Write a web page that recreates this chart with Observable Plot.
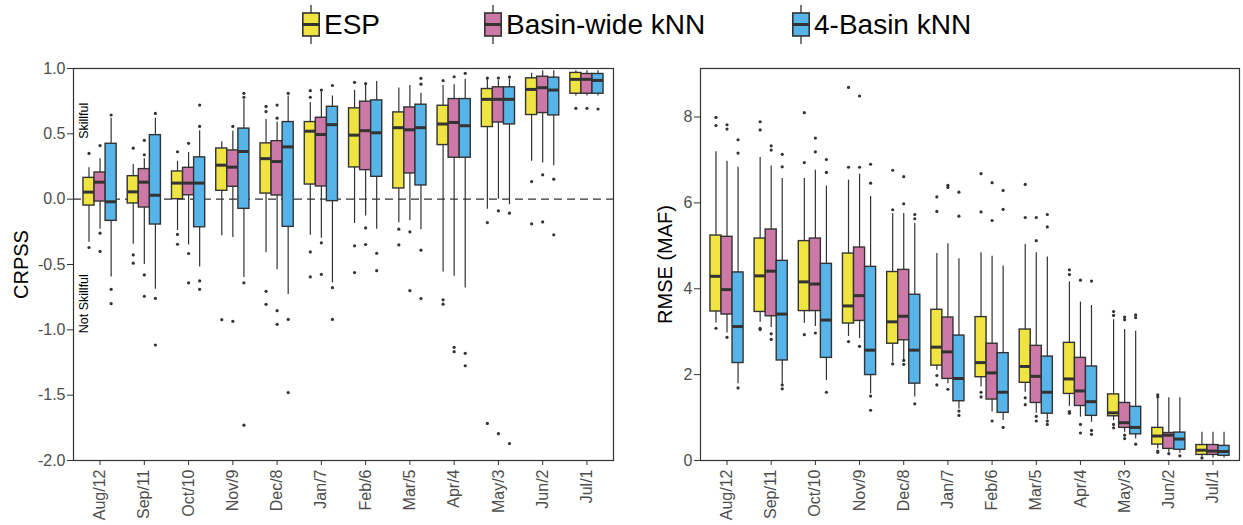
<!DOCTYPE html>
<html><head><meta charset="utf-8">
<script src="https://cdn.jsdelivr.net/npm/d3@7"></script>
<script src="https://cdn.jsdelivr.net/npm/@observablehq/plot@0.6"></script>
<style>
body{margin:0;background:#fff;font-family:"Liberation Sans",Arial,sans-serif;}
#wrap{position:relative;width:1243px;height:525px;overflow:hidden;background:#fff}
#legend{position:absolute;left:0;top:0;width:1243px;height:55px}
.item{position:absolute;top:0;height:50px;display:flex;align-items:center}
.item span{font-size:28px;color:#000;margin-left:4px;line-height:1}
#left{position:absolute;left:0;top:55px}
#right{position:absolute;left:630px;top:55px}
</style></head>
<body><div id="wrap"><div id="legend"></div><div id="left"></div><div id="right"></div></div>
<script>
// ---------- data ----------
const months = ["Aug/12","Sep/11","Oct/10","Nov/9","Dec/8","Jan/7","Feb/6","Mar/5","Apr/4","May/3","Jun/2","Jul/1"];
const series = ["ESP","Basin-wide kNN","4-Basin kNN"];
const colors = ["#F0E442","#CC79A7","#56B4E9"];
const legendLeft = [302, 484, 792];

// box stats per month: [lower whisker, Q1, median, Q3, upper whisker]
const crpssESP = [[-0.33,-0.049,0.054,0.163,0.24],[-0.345,-0.033,0.056,0.176,0.266],[-0.24,0.0,0.123,0.212,0.29],[-0.28,0.064,0.26,0.388,0.44],[-0.41,0.043,0.31,0.427,0.61],[-0.276,0.112,0.52,0.59,0.74],[-0.186,0.243,0.49,0.695,0.833],[-0.18,0.082,0.547,0.664,0.85],[-0.557,0.414,0.575,0.715,0.87],[-0.077,0.552,0.764,0.843,0.92],[0.29,0.644,0.84,0.925,0.963],[0.79,0.807,0.917,0.966,0.983]];
const crpssBW = [[-0.23,-0.018,0.13,0.204,0.31],[-0.5,-0.064,0.13,0.23,0.31],[-0.35,0.03,0.123,0.24,0.357],[-0.294,0.095,0.245,0.373,0.52],[-0.54,0.028,0.288,0.444,0.59],[-0.3,0.097,0.495,0.623,0.82],[-0.128,0.222,0.524,0.746,0.87],[-0.166,0.197,0.531,0.702,0.87],[-0.59,0.317,0.587,0.766,0.876],[0.0,0.587,0.764,0.856,0.907],[0.276,0.659,0.853,0.937,0.983],[0.79,0.807,0.917,0.958,0.983]];
const crpss4B = [[-0.595,-0.166,-0.02,0.424,0.62],[-0.69,-0.194,0.03,0.49,0.62],[-0.52,-0.215,0.123,0.32,0.524],[-0.6,-0.074,0.365,0.54,0.76],[-0.73,-0.212,0.40,0.59,0.79],[-0.64,-0.015,0.57,0.707,0.79],[-0.23,0.171,0.508,0.756,0.9],[-0.235,0.105,0.547,0.723,0.81],[-0.68,0.317,0.562,0.766,0.917],[-0.043,0.572,0.764,0.856,0.92],[0.255,0.641,0.835,0.93,0.983],[0.79,0.807,0.909,0.958,0.983]];
const crpssESPOut = [[0.35,-0.37],[0.39,-0.427,-0.49],[0.363,-0.27,-0.345],[-0.922],[0.67,0.71,-0.705,-0.805],[0.78,0.83,-0.404,-0.595],[0.894,-0.357,-0.562],[-0.23,-0.35],[0.907,-0.77,-0.804],[0.927,-0.179,-1.716],[0.135,-0.189],[0.695]];
const crpssBWOut = [[0.41,-0.26,-0.40],[0.34,0.45,-0.58,-0.743],[0.427,-0.416,-0.64],[0.557,-0.935],[0.62,0.72,-0.853,-0.958],[0.835,-0.334,-0.575],[0.885,-0.22,-0.347],[-0.25,-0.70],[0.937,-1.134,-1.167],[0.927,-0.089,-1.795],[0.186,-0.174],[0.695]];
const crpss4BOut = [[0.644,-0.69,-0.80],[0.656,-0.76,-1.116],[0.557,0.72,-0.626,-0.69],[0.78,0.81,-0.64,-1.73],[0.81,-0.92,-1.48],[0.87,-0.677,-0.92],[-0.414,-0.547],[0.88,0.925,-0.39,-0.761],[0.963,-1.18,-1.275],[0.935,-0.107,-1.87],[0.153,-0.273],[0.69]];

const rmseESP = [[3.2,3.47,4.29,5.24,7.19],[3.22,3.46,4.3,5.17,7.06],[3.19,3.48,4.16,5.11,6.57],[2.89,3.19,3.6,4.82,6.53],[2.29,2.72,3.23,4.39,5.75],[2.1,2.21,2.64,3.51,4.82],[1.71,1.94,2.28,3.34,4.84],[1.59,1.81,2.19,3.05,5.03],[1.26,1.55,1.9,2.74,4.16],[0.93,1.03,1.11,1.54,3.28],[0.27,0.37,0.57,0.76,1.44],[0.09,0.13,0.24,0.36,0.66]];
const rmseBW = [[2.97,3.4,3.98,5.21,6.97],[3.1,3.36,4.41,5.38,6.86],[3.12,3.48,4.11,5.17,6.76],[2.84,3.25,3.84,4.96,6.67],[2.35,2.8,3.36,4.44,5.75],[1.79,1.9,2.53,3.33,5.05],[1.13,1.42,2.04,2.72,4.76],[1.1,1.34,1.96,2.67,4.84],[1.01,1.27,1.62,2.39,3.69],[0.66,0.76,0.88,1.34,3.05],[0.19,0.27,0.59,0.64,1.46],[0.06,0.13,0.22,0.36,0.66]];
const rmse4B = [[1.79,2.27,3.12,4.38,6.83],[1.79,2.33,3.41,4.65,6.57],[1.86,2.39,3.27,4.58,6.39],[1.55,1.99,2.57,4.51,6.15],[1.48,1.79,2.57,3.86,5.52],[1.2,1.38,1.91,2.91,4.7],[0.93,1.11,1.59,2.5,4.53],[0.95,1.09,1.59,2.42,4.74],[0.89,1.04,1.37,2.19,3.61],[0.5,0.61,0.77,1.25,3.01],[0.17,0.25,0.5,0.65,1.46],[0.06,0.11,0.21,0.34,0.66]];
const rmseESPOut = [[7.8,7.99,3.08],[7.7,7.89,3.08,3.05],[6.94,8.1,2.93],[6.83,8.69,2.77],[5.84,6.76,2.25],[5.8,6.14,1.98,1.76],[5.79,6.68,1.59,1.48],[5.66,6.43,1.46,1.3],[4.33,4.44,1.14,1.1],[3.38,3.47,0.84,0.76],[1.48,1.53,0.22,0.19],[0.06]];
const rmseBWOut = [[7.72,7.82,2.87],[7.23,7.33,2.95,2.82],[7.19,7.51,2.97],[6.83,8.49,2.66],[5.98,6.61,2.33,2.24],[6.36,6.41,1.66],[5.59,6.47,0.92],[5.12,5.66,1.03,0.92],[4.2,0.84,0.64],[3.28,3.34,0.59,0.51],[0.16],[]];
const rmse4BOut = [[7.16,7.47,1.69],[6.84,7.13,1.76,1.67],[6.71,7.01,1.59],[6.46,6.9,1.5,1.17],[5.63,5.73,1.32],[5.69,6.25,1.15,1.05],[5.85,6.29,0.77],[5.44,5.73,0.92,0.84],[4.18,0.7,0.61],[3.33,3.39,0.38],[0.11],[]];

const crpssTicks = [-2,-1.5,-1,-0.5,0,0.5,1];
const rmseTicks = [0,2,4,6,8];
const skillLabels = ["Skillful","Not Skillful"];
const skillLabelY = [0.6,-0.8];

// ---------- helpers ----------
const W = 0.25; // dodge width per series (ggplot default 0.75 / 3)
function toBoxes(list){
  const out=[];
  list.forEach((arr,s)=>arr.forEach((st,i)=>out.push({i,s,series:series[s],lo:st[0],q1:st[1],med:st[2],q3:st[3],hi:st[4],c:i+(s-1)*W})));
  return out;
}
function toOut(list){
  const out=[];
  list.forEach((arr,s)=>arr.forEach((vals,i)=>vals.forEach(v=>out.push({i,s,v,c:i+(s-1)*W}))));
  return out;
}
const font = "'Liberation Sans', Arial, sans-serif";

function panel({boxes, outs, yDomain, yTicks, yFormat, width, marginLeft, marginRight, title, titleDx, extra}){
  return Plot.plot({
    width, height:470, marginLeft, marginRight, marginTop:13, marginBottom:65,
    style:{fontFamily:font, background:"white", overflow:"visible"},
    x:{domain:[-0.6,11.6]},
    y:{domain:yDomain},
    color:{domain:series, range:colors},
    marks:[
      ...(extra||[]),
      Plot.ruleX(boxes,{x:"c", y1:"lo", y2:"hi", stroke:"#333", strokeWidth:1.2}),
      Plot.rectY(boxes,{x1:d=>d.c-W/2, x2:d=>d.c+W/2, y1:"q1", y2:"q3", fill:"series", stroke:"#333", strokeWidth:1.4}),
      Plot.ruleY(boxes,{x1:d=>d.c-W/2, x2:d=>d.c+W/2, y:"med", stroke:"#333", strokeWidth:3}),
      Plot.dot(outs,{x:"c", y:"v", r:1.6, fill:"#333", stroke:null}),
      Plot.frame({stroke:"#333", strokeWidth:1.2}),
      Plot.axisY({ticks:yTicks, tickFormat:yFormat, tickSize:6, tickPadding:2, fontSize:16, fill:"#4d4d4d", stroke:"#333", label:null}),
      Plot.axisX({ticks:d3.range(months.length), tickFormat:i=>months[i], tickRotate:-90, tickSize:5, tickPadding:4, fontSize:16, fill:"#4d4d4d", stroke:"#333", label:null}),
      Plot.text([title],{frameAnchor:"left", textAnchor:"middle", dx:titleDx, rotate:-90, fontSize:20, fill:"#000", text:d=>d})
    ]
  });
}

const left = panel({
  boxes: toBoxes([crpssESP, crpssBW, crpss4B]),
  outs: toOut([crpssESPOut, crpssBWOut, crpss4BOut]),
  yDomain:[-2,1], yTicks:crpssTicks, yFormat:d=>d.toFixed(1),
  width:630, marginLeft:73, marginRight:17, title:"CRPSS", titleDx:-52,
  extra:[
    Plot.ruleY([0],{stroke:"#333", strokeWidth:1.2, strokeDasharray:"8,5"}),
    Plot.text(skillLabels,{y:(d,i)=>skillLabelY[i], text:d=>d, frameAnchor:"left", textAnchor:"middle", dx:10, rotate:-90, fontSize:12.5, fill:"#000"})
  ]
});
document.getElementById("left").appendChild(left);

const right = panel({
  boxes: toBoxes([rmseESP, rmseBW, rmse4B]),
  outs: toOut([rmseESPOut, rmseBWOut, rmse4BOut]),
  yDomain:[0,9.13], yTicks:rmseTicks, yFormat:d=>String(d),
  width:613, marginLeft:70, marginRight:4, title:"RMSE (MAF)", titleDx:-35
});
document.getElementById("right").appendChild(right);

// ---------- legend ----------
const lg = document.getElementById("legend");
series.forEach((name,k)=>{
  const div = document.createElement("div");
  div.className = "item";
  div.style.left = legendLeft[k]+"px";
  div.innerHTML = `<svg width="18" height="50"><line x1="9" x2="9" y1="5" y2="44" stroke="#333" stroke-width="1.3"/><rect x="0.8" y="13" width="16.4" height="23" fill="${colors[k]}" stroke="#333" stroke-width="1.6"/><line x1="0.8" x2="17.2" y1="24.5" y2="24.5" stroke="#333" stroke-width="3"/></svg><span>${name}</span>`;
  lg.appendChild(div);
});
</script></body></html>
